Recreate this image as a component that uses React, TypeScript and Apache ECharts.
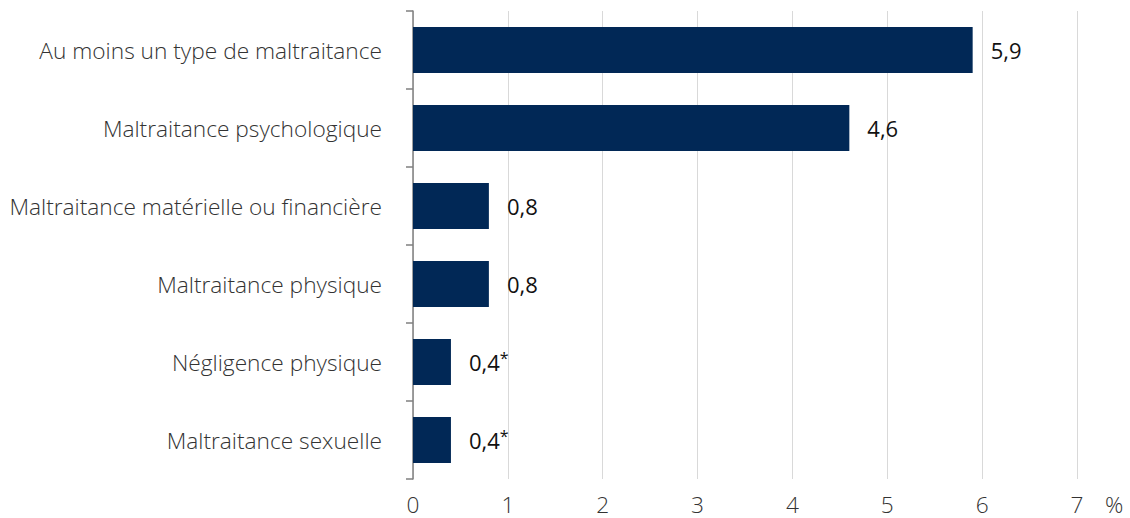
import React, { useEffect, useRef } from "react";
import * as echarts from "echarts";

const categories = [
  "Au moins un type de maltraitance",
  "Maltraitance psychologique",
  "Maltraitance matérielle ou financière",
  "Maltraitance physique",
  "Négligence physique",
  "Maltraitance sexuelle",
];
const values = [5.9, 4.6, 0.8, 0.8, 0.4, 0.4];
const flags = ["", "", "", "", "*", "*"];
const xTicks = [0, 1, 2, 3, 4, 5, 6, 7];

export default function App() {
  const ref = useRef<HTMLDivElement>(null);
  useEffect(() => {
    if (!ref.current) return;
    const chart = echarts.init(ref.current, undefined, { renderer: "svg" });
    const font = "'Open Sans', sans-serif";
    const fs = 22.7;
    chart.setOption({
      animation: false,
      grid: { left: 413, right: 53, top: 11, bottom: 39, containLabel: false },
      xAxis: {
        type: "value",
        min: xTicks[0],
        max: xTicks[xTicks.length - 1],
        interval: 1,
        axisLine: { show: false },
        axisTick: { show: false },
        splitLine: { show: true, lineStyle: { color: "#d9d9d9", width: 1 } },
        axisLabel: {
          color: "#333",
          fontFamily: font,
          fontWeight: 300,
          fontSize: fs,
          margin: 14,
          formatter: (v: number) => String(v),
        },
      },
      yAxis: {
        type: "category",
        data: categories,
        inverse: true,
        axisLine: { show: true, lineStyle: { color: "#7f7f7f", width: 1.5 } },
        axisTick: { show: true, length: 7, lineStyle: { color: "#7f7f7f", width: 1.5 } },
        axisLabel: { color: "#333", fontFamily: font, fontWeight: 300, fontSize: fs, margin: 31 },
        splitLine: { show: false },
      },
      series: [
        {
          type: "bar",
          data: values.map((v, i) => ({ value: v, flag: flags[i] })),
          barWidth: 46,
          itemStyle: { color: "#012856" },
          label: {
            show: true,
            position: "right",
            distance: 18,
            formatter: (p: any) => {
              const s = String(p.value).replace(".", ",");
              const f = flags[p.dataIndex];
              return f ? `{v|${s}}{s|${f}}` : `{v|${s}}`;
            },
            rich: {
              v: { fontFamily: font, fontWeight: 400, fontSize: 22, color: "#111" },
              s: { fontFamily: font, fontWeight: 400, fontSize: 16, color: "#111", verticalAlign: "top", padding: [0, 0, 8, 0] },
            },
          },
        },
      ],
      graphic: [
        {
          type: "text",
          left: 1105,
          top: 493,
          style: { text: "%", font: `300 ${fs}px ${font}`, fill: "#333" },
        },
      ],
    });
    return () => chart.dispose();
  }, []);
  return <div ref={ref} style={{ position: "absolute", left: 0, top: 0, width: 1130, height: 518 }} />;
}
